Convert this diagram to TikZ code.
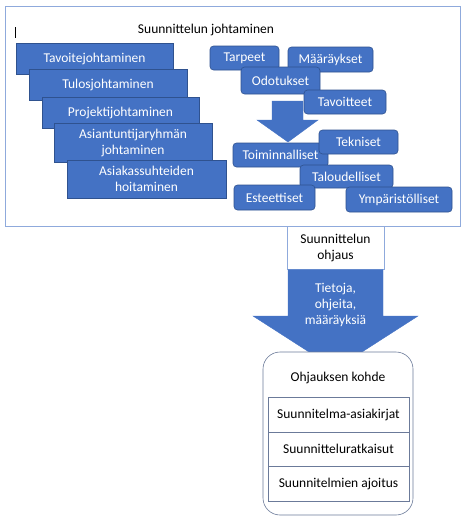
\documentclass[tikz,border=0pt]{standalone}
\usepackage{fontspec}
\setmainfont{Carlito}
\definecolor{obl}{HTML}{4472C4}
\definecolor{obd}{HTML}{2F528F}
\definecolor{frm}{HTML}{8FAADC}
\definecolor{gbd}{HTML}{6B7A99}
\begin{document}
\begin{tikzpicture}[x=1pt,y=-1pt,
  txt/.style={font=\fontsize{13.5}{16}\selectfont},
  sq/.style={txt,draw=obd,fill=obl,text=white,inner sep=0pt,align=center,line width=0.6pt},
  rd/.style={sq,rounded corners=3.5pt},
  wb/.style={txt,draw=gbd,fill=white,inner sep=0pt,align=center,line width=0.6pt},
  blk/.style={fill=obl,draw=obl,line width=0.4pt}]
\useasboundingbox (0,0) rectangle (470,522);
% outer frame
\draw[frm,line width=0.8pt,fill=white] (5,6) rectangle (460,226);
\node[txt] (title) at (206,30) {Suunnittelun johtaminen};
\draw[line width=0.8pt] (15,27) -- (15,38);
% left stack
\node[sq,minimum width=157,minimum height=31] (l1) at (94.5,58.5) {Tavoitejohtaminen};
\node[sq,minimum width=158,minimum height=31] (l2) at (108,84.5) {Tulosjohtaminen};
\node[sq,minimum width=157,minimum height=31] (l3) at (120.5,112.5) {Projektijohtaminen};
\node[sq,minimum width=158,minimum height=39] (l4) at (133,142.5) {Asiantuntijaryhmän\\johtaminen};
\node[sq,minimum width=159,minimum height=38] (l5) at (146.5,179) {Asiakassuhteiden\\hoitaminen};
% right upper cluster
\node[rd,minimum width=69,minimum height=24] (tar) at (244.5,58) {Tarpeet};
\node[rd,minimum width=85,minimum height=25] (maa) at (330.5,59.5) {Määräykset};
\node[rd,minimum width=79,minimum height=27] (odo) at (280.5,80.5) {Odotukset};
\node[rd,minimum width=82,minimum height=24] (tav) at (345,102) {Tavoitteet};
% small arrow
\filldraw[blk] (272,101) -- (303,101) -- (303,120) -- (318,120) -- (288,142) -- (257,120) -- (272,120) -- cycle;
% right lower cluster
\node[rd,minimum width=95,minimum height=24] (toi) at (280.5,155) {Toiminnalliset};
\node[rd,minimum width=79,minimum height=24] (tek) at (358.5,142) {Tekniset};
\node[rd,minimum width=93,minimum height=23] (tal) at (346.5,176.5) {Taloudelliset};
\node[rd,minimum width=81,minimum height=25] (est) at (274.5,197.5) {Esteettiset};
\node[rd,minimum width=106,minimum height=25] (ymp) at (399,199.5) {Ympäristölliset};
% ohjaus box
\node[txt,draw=frm,fill=white,inner sep=0pt,align=center,minimum width=97,minimum height=43] (ohj) at (335.5,247.5) {Suunnittelun\\ohjaus};
% big arrow
\filldraw[blk] (288,269.5) -- (383,269.5) -- (383,316) -- (418,316) -- (335.5,369) -- (253,316) -- (288,316) -- cycle;
\node[txt,text=white,align=center] (info) at (335.5,305) {Tietoja,\\ohjeita,\\määräyksiä};
% target
\node[wb,rounded corners=17pt,minimum width=150,minimum height=163] (koh) at (338,433.5) {};
\node[txt] (kohT) at (338,378) {Ohjauksen kohde};
\node[wb,minimum width=141,minimum height=35] (k1) at (338.5,414.5) {Suunnitelma-asiakirjat};
\node[wb,minimum width=141,minimum height=34] (k2) at (338.5,449) {Suunnitteluratkaisut};
\node[wb,minimum width=141,minimum height=35] (k3) at (338.5,483.5) {Suunnitelmien ajoitus};
\end{tikzpicture}
\end{document}
